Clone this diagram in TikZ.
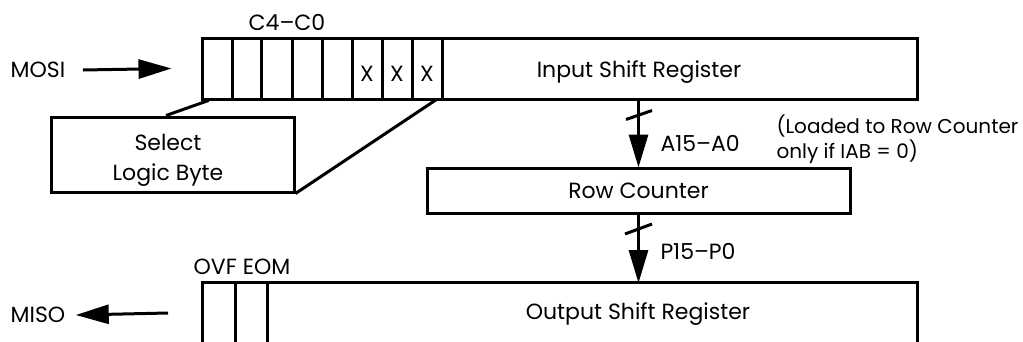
\documentclass[tikz,border=0pt]{standalone}
\usepackage{fontspec}
\setmainfont{Poppins}
\usetikzlibrary{arrows.meta}
\begin{document}
\begin{tikzpicture}[x=1pt,y=-1pt,line width=3pt,
  box/.style={draw,line width=3pt,inner sep=0pt},
  lbl/.style={font=\fontsize{22}{30}\selectfont,inner sep=0pt},
  notelbl/.style={font=\fontsize{20}{25}\selectfont,inner sep=0pt},
  bigarrow/.style={-{Triangle[length=33pt,width=19pt]},line width=3pt,shorten >=-1pt},
  cellline/.style={line width=3pt},
  ]
\useasboundingbox (0,0) rectangle (1023,341);

% input shift register
\node[box,minimum width=715pt,minimum height=61pt] (isr) at (559.5,68.5) {};
\foreach \x in {232,261,292,322,352,382,412,442}
  \draw[cellline] (\x,38) -- (\x,99);
\node[lbl] (x1) at (367,74) {X};
\node[lbl] (x2) at (397,74) {X};
\node[lbl] (x3) at (427,74) {X};
\node[lbl] (isrtext) at (639,72) {Input Shift Register};
\node[lbl] (cbits) at (287,22) {C4–C0};

% MOSI
\node[lbl] (mosi) at (38,70) {MOSI};
\draw[bigarrow] ([xshift=16pt]mosi.east) -- ([xshift=-30pt]isr.west);

% select logic byte
\node[box,minimum width=243pt,minimum height=75pt] (slb) at (172.5,154.5) {};
\node[lbl,align=center] (slbtext) at (168,160) {Select\\Logic Byte};
\draw ([xshift=8pt]isr.south west) -- ([xshift=-6.5pt]slb.north);
\draw ([xshift=236pt,yshift=1pt]isr.south west) -- (slb.south east);

% row counter
\node[box,lbl,minimum width=423pt,minimum height=45pt] (rc) at (638.5,190.5) {Row Counter};
\draw[bigarrow] (isr.south -| rc.north) -- (rc.north);
\draw (626,119.5) -- (652,110.5);
\node[lbl,anchor=west] (alab) at (659,143) {A15–A0};
\node[notelbl,anchor=west,align=left] (note) at (775,139.5) {(Loaded to Row Counter\\only if IAB = 0)};

% output shift register
\coordinate (osrtop) at (638.5,282);
\draw (202,345) -- (202,282) -- (917,282) -- (917,345);
\draw[cellline] (235,282) -- (235,345);
\draw[cellline] (267,282) -- (267,345);
\node[lbl] (osrtext) at (638,314) {Output Shift Register};
\node[lbl] (flags) at (242,267) {OVF EOM};
\draw[bigarrow] (rc.south) -- (osrtop);
\draw (625,234) -- (652,224);
\node[lbl,anchor=west] (plab) at (659,251) {P15–P0};

% MISO
\node[lbl] (miso) at (38,315) {MISO};
\draw[bigarrow] (168,313) -- ([xshift=10pt]miso.east);
\end{tikzpicture}
\end{document}
